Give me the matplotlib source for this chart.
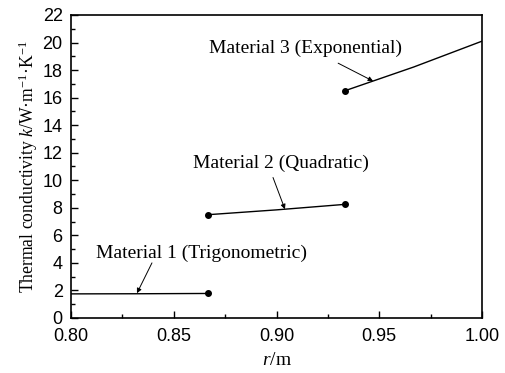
import numpy as np
import matplotlib.pyplot as plt
from matplotlib.ticker import MultipleLocator

plt.rcParams['mathtext.fontset'] = 'custom'
plt.rcParams['mathtext.rm'] = 'Liberation Serif'
plt.rcParams['mathtext.it'] = 'Liberation Serif:italic'

# Conductivity in each material layer
r1 = [0.80, 0.8333, 0.8667]
k1 = [1.75, 1.76, 1.78]
r2 = [0.8667, 0.90, 0.9333]
k2 = [7.5, 7.85, 8.25]
r3 = [0.9333, 0.9667, 1.00]
k3 = [16.5, 18.22, 20.1]

fig = plt.figure(figsize=(5.06, 3.73), dpi=100)
ax = fig.add_axes([0.1403, 0.1475, 0.8123, 0.8123])

ax.plot(r1, k1, color='black', lw=1.0)
ax.plot(r2, k2, color='black', lw=1.0)
ax.plot(r3, k3, color='black', lw=1.0)
# end points
ax.plot([r1[-1]], [k1[-1]], 'o', color='black', ms=4)
ax.plot([r2[0], r2[-1]], [k2[0], k2[-1]], 'o', color='black', ms=4)
ax.plot([r3[0]], [k3[0]], 'o', color='black', ms=4)

serif = 'Liberation Serif'
arw = dict(arrowstyle='-|>', color='black', lw=0.7, mutation_scale=7,
           shrinkA=0, shrinkB=0)
ax.text(0.8633, 4.7, 'Material 1 (Trigonometric)', family=serif, fontsize=14,
        ha='center', va='center')
ax.annotate('', xy=(0.8321, 1.8), xytext=(0.8394, 4.0), arrowprops=arw)
ax.text(0.902, 11.25, 'Material 2 (Quadratic)', family=serif, fontsize=14,
        ha='center', va='center')
ax.annotate('', xy=(0.9041, 7.9), xytext=(0.8983, 10.2), arrowprops=arw)
ax.text(0.9139, 19.6, 'Material 3 (Exponential)', family=serif, fontsize=14,
        ha='center', va='center')
ax.annotate('', xy=(0.947, 17.2), xytext=(0.930, 18.5), arrowprops=arw)

ax.set_xlim(0.80, 1.00)
ax.set_ylim(0, 22)
ax.xaxis.set_major_locator(MultipleLocator(0.05))
ax.xaxis.set_minor_locator(MultipleLocator(0.025))
ax.yaxis.set_major_locator(MultipleLocator(2))
ax.yaxis.set_minor_locator(MultipleLocator(1))
ax.xaxis.set_major_formatter(plt.FormatStrFormatter('%.2f'))
ax.tick_params(which='both', direction='in', top=False, right=False,
               labelsize=13, width=1.0)
ax.tick_params(which='major', length=5)
ax.tick_params(which='minor', length=3)
ax.tick_params(axis='x', which='major', pad=7.5)
ax.tick_params(axis='y', which='major', pad=6)
for lab in ax.get_xticklabels() + ax.get_yticklabels():
    lab.set_family('Liberation Sans')
for s in ax.spines.values():
    s.set_linewidth(1.2)

ax.set_xlabel(r'$\it{r}$/m', fontsize=14, family=serif, labelpad=5)
ax.set_ylabel(r'Thermal conductivity $k$/W·m$^{-1}$·K$^{-1}$',
              fontsize=12.7, family=serif, labelpad=2)

fig.savefig('out.png', dpi=100)
